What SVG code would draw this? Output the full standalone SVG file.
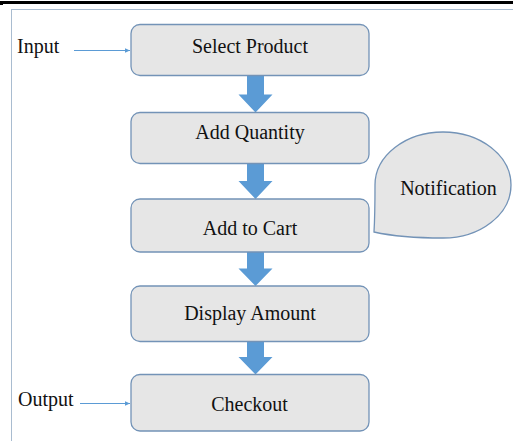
<svg xmlns="http://www.w3.org/2000/svg" width="513" height="441" viewBox="0 0 513 441">
<style>
.box{fill:#e6e6e6;stroke:#7393b7;stroke-width:1.3}
.txt{font-family:"Liberation Serif","Times New Roman",serif;font-size:20px;fill:#111}
.mid{text-anchor:middle}
.flow{fill:#5b9bd5}
.io{stroke:#5b9bd5;stroke-width:1;fill:none}
</style>
<defs>
<marker id="ah" markerWidth="6" markerHeight="6" refX="5" refY="3" orient="auto" markerUnits="userSpaceOnUse">
<path d="M0,0.8 L5,3 L0,5.2 Z" fill="#5b9bd5"/>
</marker>
</defs>
<rect x="0" y="0" width="513" height="441" fill="#fff"/>
<rect x="0" y="1" width="513" height="3" fill="#000"/>
<rect x="0" y="4" width="3" height="1" fill="#000"/>
<rect x="11.5" y="9.5" width="520" height="450" fill="none" stroke="#a9bcd0" stroke-width="1"/>

<g id="connectors">
<line class="io" x1="74" y1="50.5" x2="130" y2="50.5" marker-end="url(#ah)"/>
<line class="io" x1="80" y1="403.5" x2="130" y2="403.5" marker-end="url(#ah)"/>
<path class="flow" d="M247,75.5 H264 V94.5 H272.5 L255.5,112.5 L238.5,94.5 H247 Z"/>
<path class="flow" d="M247,163.5 H264 V181 H272.5 L255.5,199 L238.5,181 H247 Z"/>
<path class="flow" d="M247,252 H264 V268.5 H272.5 L255.5,286 L238.5,268.5 H247 Z"/>
<path class="flow" d="M247,341.5 H264 V357 H272.5 L255.5,374.5 L238.5,357 H247 Z"/>
</g>

<g id="input"><text class="txt" x="17" y="52.5">Input</text></g>
<g id="output"><text class="txt" x="18" y="405.5">Output</text></g>

<g id="select-product">
<rect class="box" x="131" y="24.5" width="238" height="51" rx="9"/>
<text class="txt mid" x="250" y="52.5">Select Product</text>
</g>
<g id="add-quantity">
<rect class="box" x="131" y="112.5" width="238" height="51" rx="9"/>
<text class="txt mid" x="250" y="139">Add Quantity</text>
</g>
<g id="add-to-cart">
<rect class="box" x="131" y="199" width="238" height="53" rx="9"/>
<text class="txt mid" x="250" y="234.5">Add to Cart</text>
</g>
<g id="display-amount">
<rect class="box" x="131" y="286" width="238" height="55.5" rx="9"/>
<text class="txt mid" x="250" y="320">Display Amount</text>
</g>
<g id="checkout">
<rect class="box" x="131" y="374.5" width="238" height="56.5" rx="9"/>
<text class="txt mid" x="249.5" y="410.5">Checkout</text>
</g>
<g id="notification">
<path class="box" d="M375,185 A68,53 0 0 1 443,132 A68,53 0 0 1 511,185 A68,53 0 0 1 443,238 C420,238 392,236 374,232 C375,215 375,200 375,185 Z"/>
<text class="txt mid" x="448.5" y="194.5">Notification</text>
</g>
</svg>
